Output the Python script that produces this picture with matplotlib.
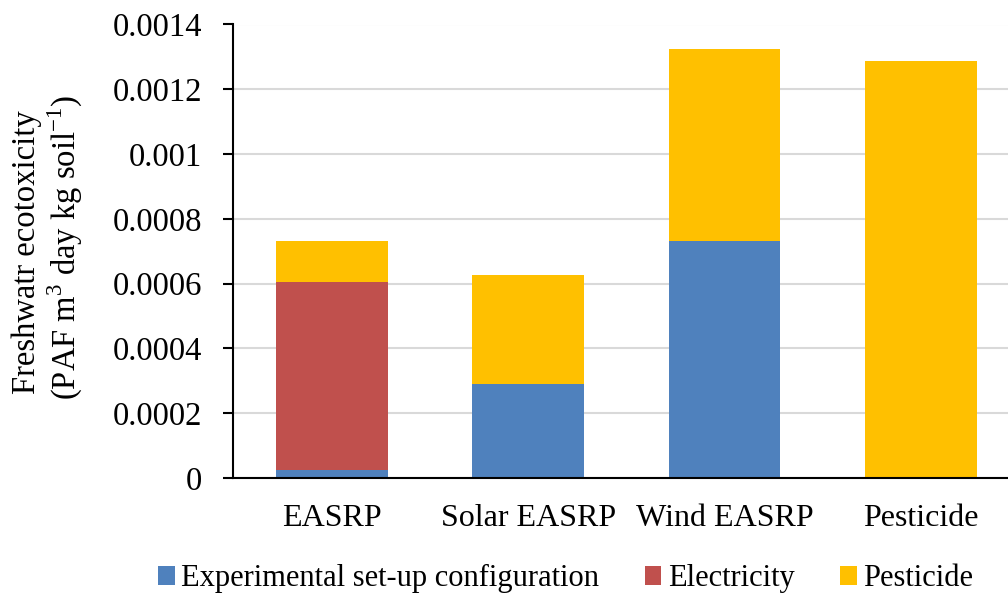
import matplotlib.pyplot as plt
import numpy as np

plt.rcParams['font.family'] = ['Liberation Serif', 'DejaVu Serif']
plt.rcParams['mathtext.fontset'] = 'custom'
plt.rcParams['mathtext.rm'] = 'Liberation Serif'

# Дані
categories = ['EASRP', 'Solar EASRP', 'Wind EASRP', 'Pesticide']
setup = [0.000025, 0.00029, 0.000732, 0.0]
electricity = [0.00058, 0.0, 0.0, 0.0]
pesticide = [0.000128, 0.000337, 0.000593, 0.001287]

colors = ['#4F81BD', '#C0504D', '#FFC000']

fig = plt.figure(figsize=(10.08, 5.95), dpi=100)
ax = fig.add_axes([233 / 1008, 117 / 595, 1 - 233 / 1008, (478 - 24.5) / 595])

x = np.arange(len(categories))
w = 0.57
b1 = np.array(setup)
b2 = b1 + np.array(electricity)
ax.bar(x, setup, w, color=colors[0], label='Experimental set-up configuration', zorder=2)
ax.bar(x, electricity, w, bottom=b1, color=colors[1], label='Electricity', zorder=2)
ax.bar(x, pesticide, w, bottom=b2, color=colors[2], label='Pesticide', zorder=2)

ax.set_xlim(-0.504, 3.444)
ax.set_ylim(0, 0.0014)
ax.set_yticks(np.arange(0, 0.00141, 0.0002))
ax.set_yticklabels(['0', '0.0002', '0.0004', '0.0006', '0.0008', '0.001', '0.0012', '0.0014'])
ax.set_xticks(x)
ax.set_xticklabels(categories)
ax.tick_params(axis='y', labelsize=23.5, length=7, width=1.5, direction='out', pad=15)
ax.tick_params(axis='x', labelsize=23, length=0, pad=19)
ax.yaxis.grid(True, color='#D9D9D9', linewidth=1.5, zorder=0)
ax.set_axisbelow(True)
for s in ['top', 'right']:
    ax.spines[s].set_visible(False)
ax.spines['left'].set_linewidth(1.5)
ax.spines['bottom'].set_linewidth(1.5)

fig.text(0.027, 0.576, 'Freshwatr ecotoxicity', rotation=90, ha='center', va='center', fontsize=23.5)
fig.text(0.065, 0.585, r'(PAF m$^{\mathregular{3}}$ day kg soil$^{\mathregular{-1}}$)', rotation=90,
         ha='center', va='center', fontsize=23.5)

fig.legend(loc='center', bbox_to_anchor=(0.561, 0.027), ncol=3, frameon=False, fontsize=22,
           handlelength=0.55, handleheight=0.55, handletextpad=0.2, columnspacing=1.5)

fig.savefig('out.png', dpi=100)
